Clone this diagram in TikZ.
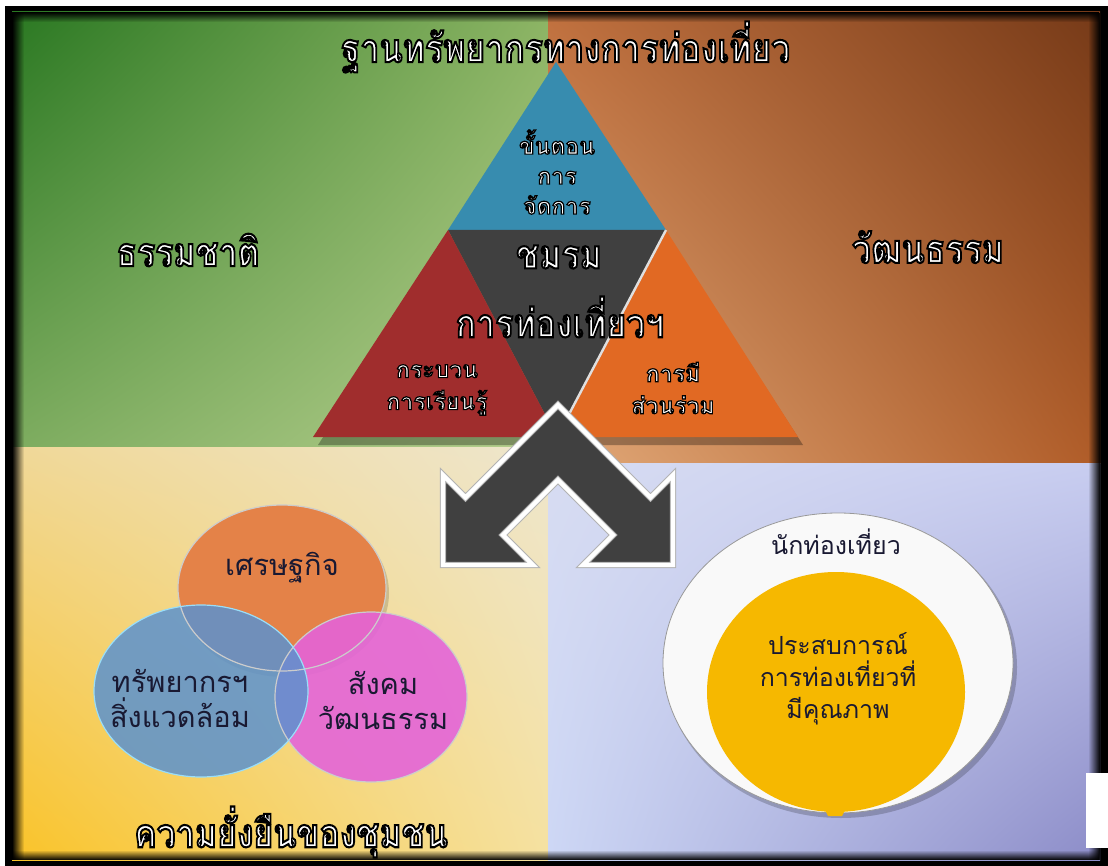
\documentclass[tikz,border=0pt]{standalone}
\usepackage{fontspec}
\usetikzlibrary{fadings,shadings}
\newfontfamily\thaifont[Script=Thai]{Loma}
% white letters with a black stroke (text render mode 2)
\newcommand{\outl}[2][0.6]{\textcolor{white}{\special{pdf:literal direct 2 Tr #1 w 0 G}#2\special{pdf:literal direct 0 Tr}}}
\newcommand{\bigoutl}[1]{\scalebox{0.94}[1.1]{\outl[0.95]{#1}}}

\definecolor{triblue}{RGB}{55,140,175}
\definecolor{tridark}{RGB}{64,64,64}
\definecolor{trired}{RGB}{160,45,45}
\definecolor{triorange}{RGB}{225,105,35}
\definecolor{vennorange}{RGB}{228,130,72}
\definecolor{vennblue}{RGB}{92,146,206}
\definecolor{vennpink}{RGB}{228,100,216}
\definecolor{goldfill}{RGB}{246,184,0}
\definecolor{inktext}{RGB}{25,25,50}
% quadrant corners
\definecolor{gUL}{RGB}{42,120,34}
\definecolor{gUR}{RGB}{140,180,100}
\definecolor{gLL}{RGB}{125,172,95}
\definecolor{gLR}{RGB}{182,207,142}
\definecolor{bUL}{RGB}{192,112,62}
\definecolor{bUR}{RGB}{118,58,24}
\definecolor{bLL}{RGB}{226,170,122}
\definecolor{bLR}{RGB}{176,92,40}
\definecolor{yUL}{RGB}{240,216,152}
\definecolor{yUR}{RGB}{238,230,205}
\definecolor{yLL}{RGB}{250,195,40}
\definecolor{yLR}{RGB}{245,225,160}
\definecolor{lUL}{RGB}{215,220,242}
\definecolor{lUR}{RGB}{200,205,240}
\definecolor{lLL}{RGB}{205,215,245}
\definecolor{lLR}{RGB}{140,140,200}

\begin{document}
\begin{tikzpicture}
    [
        x=0.5pt, y=-0.5pt,
        bigtext/.style={font=\thaifont\bfseries\fontsize{18}{20}\selectfont, inner sep=0pt},
        smalltext/.style={font=\thaifont\bfseries\fontsize{11.5}{15}\selectfont, inner sep=0pt, align=center},
        venntext/.style={font=\thaifont\fontsize{14.5}{17.5}\selectfont, text=inktext, inner sep=0pt, align=center},
        goldtext/.style={font=\thaifont\fontsize{12.5}{16}\selectfont, text=inktext, inner sep=0pt, align=center},
        shadowfill/.style={fill=black, opacity=0.3}
    ]
    % Frame
    \fill[white] (0,0) rectangle (1108,866);
    \fill[black] (5,6) rectangle (1108,866);

    % Quadrants
    \shade[upper left=gUL, upper right=gUR, lower left=gLL, lower right=gLR] (12,12) rectangle (548,447);
    \shade[upper left=bUL, upper right=bUR, lower left=bLL, lower right=bLR] (548,12) rectangle (1100,463);
    \shade[upper left=yUL, upper right=yUR, lower left=yLL, lower right=yLR] (12,447) rectangle (548,860);
    \shade[upper left=lUL, upper right=lUR, lower left=lLL, lower right=lLR] (548,463) rectangle (1100,860);

    % Edge shadows
    \fill[black, path fading=east] (12,12) rectangle (24,860);
    \fill[black, path fading=west] (1088,12) rectangle (1100,860);
    \fill[black, path fading=south] (12,12) rectangle (1100,22);
    \fill[black, path fading=north] (12,850) rectangle (1100,860);

    % Triangle
    \fill[shadowfill] (560,70) -- (318,445) -- (803,445) -- cycle;
    \fill[triblue] (556,62) -- (448,230) -- (666,230) -- cycle;
    \fill[tridark] (448,230) -- (666,230) -- (557,437) -- cycle;
    \fill[trired] (448,230) -- (313,437) -- (557,437) -- cycle;
    \fill[triorange] (666,230) -- (798,437) -- (557,437) -- cycle;
    \draw[white!75!gray, line width=1.2] (666,230) -- (557,437);

    % Double arrow
    \filldraw[fill=tridark, draw=gray!60, double=white, double distance=2.2pt, line width=0.5pt, line join=miter]
        (558,405) -- (465.5,497.5) -- (443,475) -- (443,565) -- (533,565) -- (503,535) -- (558,480)
        -- (613,535) -- (583,565) -- (673,565) -- (673,475) -- (650.5,497.5) -- cycle;

    % Venn
    \fill[shadowfill, opacity=0.15] (285,593) ellipse (104 and 84);
    \fill[vennorange] (282,588) ellipse (104 and 83);
    \fill[vennpink, opacity=0.9] (371,697) ellipse (96 and 85);
    \fill[vennblue, opacity=0.85] (201,691) ellipse (107 and 86);
    \draw[white!60!gray, line width=0.6] (282,588) ellipse (104 and 83);
    \draw[white!60!gray, line width=0.6] (371,697) ellipse (96 and 85);
    \draw[white!60!cyan, line width=0.6] (201,691) ellipse (107 and 86);

    % Visitor ellipse
    \fill[shadowfill, opacity=0.2] (841,667) ellipse (176 and 151);
    \filldraw[fill=white!95!gray, draw=gray!80] (838,663) ellipse (175 and 150);
    \fill[goldfill] (836,692) ellipse (129 and 120);
    \fill[goldfill] (824,808) -- (846,808) -- (842,816) -- (828,816) -- cycle;

    % Corner patch
    \fill[white] (1086,773) rectangle (1108,848);

    % Nodes
    \node[bigtext] (base) at (566,47) {\bigoutl{ฐานทรัพยากรทางการท่องเที่ยว}};
    \node[bigtext] (nature) at (188,250) {\bigoutl{ธรรมชาติ}};
    \node[bigtext] (culture) at (928,247) {\bigoutl{วัฒนธรรม}};
    \node[bigtext] (club) at (559,257) {\bigoutl{ชมรม}};
    \node[bigtext] (tourism) at (560,317) {\bigoutl{การท่องเที่ยวฯ}};
    \node[bigtext] (sustain) at (291,832) {\bigoutl{ความยั่งยืนของชุมชน}};

    \node[smalltext] (manage) at (557,172) {\outl{ขั้นตอน}\\\outl{การ}\\\outl{จัดการ}};
    \node[smalltext] (learn) at (437,390) {\outl{กระบวน}\\[1pt]\outl{การเรียนรู้}};
    \node[smalltext] (share) at (673,388) {\outl{การมี}\\[1pt]\outl{ส่วนร่วม}};

    \node[venntext] (economy) at (282,568) {เศรษฐกิจ};
    \node[venntext] (resource) at (180,698) {ทรัพยากรฯ\\สิ่งแวดล้อม};
    \node[venntext] (society) at (383,700) {สังคม\\วัฒนธรรม};

    \node[goldtext] (visitor) at (836,542) {นักท่องเที่ยว};
    \node[goldtext] (experience) at (838,679) {ประสบการณ์\\การท่องเที่ยวที่\\มีคุณภาพ};
\end{tikzpicture}
\end{document}
